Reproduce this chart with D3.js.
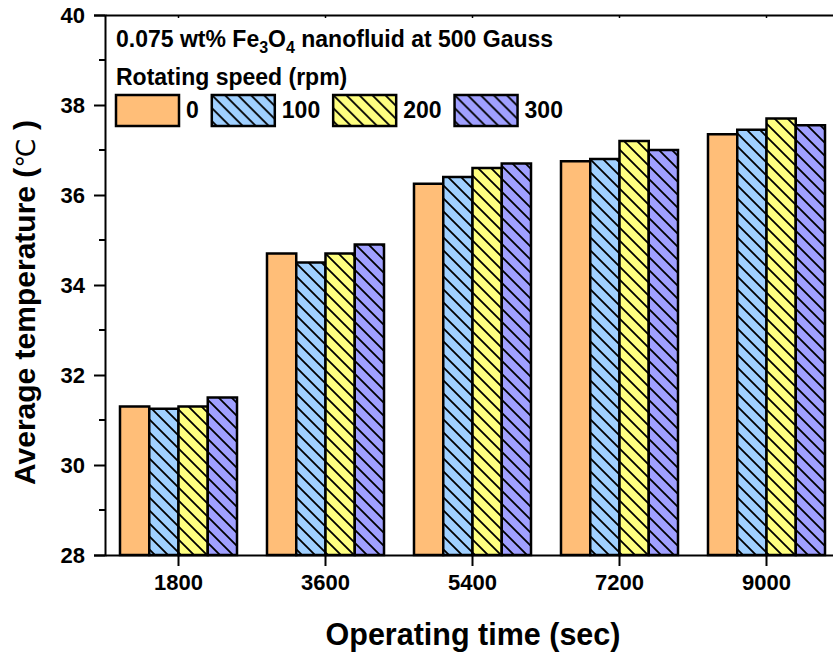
<!DOCTYPE html>
<html>
<head>
<meta charset="utf-8">
<script src="https://cdn.jsdelivr.net/npm/d3@7"></script>
<style>
  body { margin: 0; background: #fff; }
  svg text { font-family: "Liberation Sans", Arial, sans-serif; font-weight: bold; fill: #000; }
</style>
</head>
<body>
<svg id="chart" width="833" height="657"></svg>
<script>
// operating time groups and rotating speeds
const times = ["1800", "3600", "5400", "7200", "9000"];
const speeds = ["0", "100", "200", "300"];

// average temperature per speed, one value per time group
const temp0 = [31.3, 34.7, 36.25, 36.75, 37.35];
const temp100 = [31.25, 34.5, 36.4, 36.8, 37.45];
const temp200 = [31.3, 34.7, 36.6, 37.2, 37.7];
const temp300 = [31.5, 34.9, 36.7, 37.0, 37.55];

const yTicks = [28, 30, 32, 34, 36, 38, 40];
const yMinor = [29, 31, 33, 35, 37, 39];

const fills = ["#FFBE78", "#A0D0FF", "#FFFF80", "#A0A0FF"];
const hatched = [false, true, true, true];

const series = [temp0, temp100, temp200, temp300];

const svg = d3.select("#chart");
const plot = { left: 105, right: 840, top: 15, bottom: 555 };

// diagonal hatch patterns, one per fill colour
const defs = svg.append("defs");
const hs = 13;
fills.forEach((c, i) => {
  if (!hatched[i]) return;
  const p = defs.append("pattern")
    .attr("id", "hatch" + i)
    .attr("patternUnits", "userSpaceOnUse")
    .attr("width", hs).attr("height", hs);
  p.append("rect").attr("width", hs).attr("height", hs).attr("fill", c);
  p.append("path")
    .attr("d", `M-3,-3L${hs + 3},${hs + 3}M-3,${hs - 3}L3,${hs + 3}M${hs - 3},-3L${hs + 3},3`)
    .attr("stroke", "#000").attr("stroke-width", 1.8);
});
const fillOf = i => hatched[i] ? `url(#hatch${i})` : fills[i];

const x0 = d3.scaleBand().domain(times).range([plot.left, plot.right])
  .paddingInner(0.204).paddingOuter(0.102);
const x1 = d3.scaleBand().domain(speeds).range([0, x0.bandwidth()]);
const y = d3.scaleLinear().domain([28, 40]).range([plot.bottom, plot.top]);

// bars
times.forEach((t, ti) => {
  const g = svg.append("g").attr("transform", `translate(${x0(t)},0)`);
  g.selectAll("rect")
    .data(speeds.map((s, si) => ({ s, si, v: series[si][ti] })))
    .join("rect")
    .attr("x", d => x1(d.s))
    .attr("y", d => y(d.v))
    .attr("width", x1.bandwidth())
    .attr("height", d => y(28) - y(d.v))
    .attr("fill", d => fillOf(d.si))
    .attr("stroke", "#000")
    .attr("stroke-width", 2.5);
});

// left axis with minor ticks
const yAxis = svg.append("g").attr("transform", `translate(${plot.left},0)`)
  .call(d3.axisLeft(y).tickValues(yTicks).tickSize(11).tickPadding(9).tickFormat(d3.format("d")));
yAxis.selectAll("text").style("font-size", "22px");
yAxis.select(".domain").attr("stroke-width", 2);
yAxis.selectAll(".tick line").attr("stroke-width", 2);
svg.append("g").selectAll("line").data(yMinor).join("line")
  .attr("x1", plot.left - 6).attr("x2", plot.left)
  .attr("y1", d => y(d)).attr("y2", d => y(d))
  .attr("stroke", "#000").attr("stroke-width", 2);

// bottom axis
const xAxis = svg.append("g").attr("transform", `translate(0,${plot.bottom})`)
  .call(d3.axisBottom(x0).tickSize(11).tickPadding(8).tickSizeOuter(0));
xAxis.selectAll("text").style("font-size", "22px");
xAxis.select(".domain").attr("stroke-width", 2);
xAxis.selectAll(".tick line").attr("stroke-width", 2);

// top frame line with short inward ticks
const topAxis = svg.append("g").attr("transform", `translate(0,${plot.top})`)
  .call(d3.axisTop(x0).tickSize(-3).tickSizeOuter(0).tickFormat(""));
topAxis.select(".domain").attr("stroke-width", 2);
topAxis.selectAll(".tick line").attr("stroke-width", 1.5);

// axis titles
svg.append("text")
  .attr("x", 473).attr("y", 645)
  .attr("text-anchor", "middle").style("font-size", "30.5px")
  .text("Operating time (sec)");
const yTitle = svg.append("text")
  .attr("transform", "translate(35,485) rotate(-90)")
  .style("font-size", "30px");
yTitle.append("tspan").text("Average temperature (");
yTitle.append("tspan")
  .style("font-family", "'DejaVu Sans'").style("font-weight", "normal").style("font-size", "26px")
  .text("℃");
yTitle.append("tspan").text(" )");

// legend
const title = svg.append("text").attr("x", 116).attr("y", 47).style("font-size", "23px");
title.append("tspan").text("0.075 wt% Fe");
title.append("tspan").attr("dy", 6).style("font-size", "16px").text("3");
title.append("tspan").attr("dy", -6).text("O");
title.append("tspan").attr("dy", 6).style("font-size", "16px").text("4");
title.append("tspan").attr("dy", -6).text(" nanofluid at 500 Gauss");

svg.append("text").attr("x", 116).attr("y", 85).style("font-size", "23px")
  .text("Rotating speed (rpm)");

// legend entries laid out left to right after each label's width
let lx = 116;
speeds.forEach((s, i) => {
  const g = svg.append("g").attr("transform", `translate(${lx},95)`);
  g.append("rect")
    .attr("width", 63).attr("height", 31)
    .attr("fill", fillOf(i))
    .attr("stroke", "#000").attr("stroke-width", 2.5);
  const label = g.append("text")
    .attr("x", 70).attr("y", 23).style("font-size", "23px")
    .text(s);
  lx += 70 + label.node().getComputedTextLength() + 13;
});
</script>
</body>
</html>
